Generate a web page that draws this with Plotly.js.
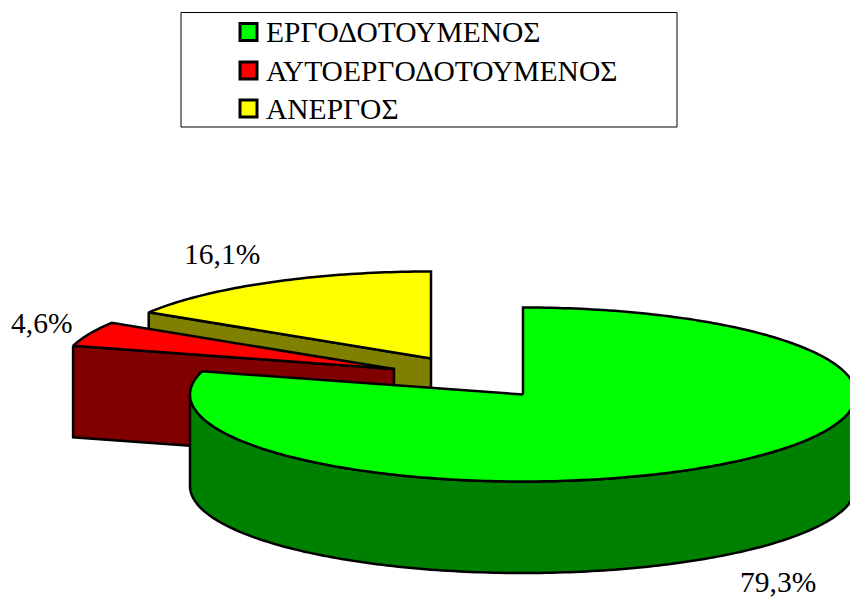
<!DOCTYPE html>
<html>
<head>
<meta charset="utf-8">
<script src="https://cdn.plot.ly/plotly-3.0.1.min.js"></script>
<style>html,body{margin:0;padding:0;background:#fff;overflow:hidden}</style>
</head>
<body>
<div id="chart" style="width:850px;height:597px"></div>
<script>
// Data
const categories = ['ΕΡΓΟΔΟΤΟΥΜΕΝΟΣ', 'ΑΥΤΟΕΡΓΟΔΟΤΟΥΜΕΝΟΣ', 'ΑΝΕΡΓΟΣ'];
const values = [79.3, 4.6, 16.1];
const topColors = ['#00ff00', '#ff0000', '#ffff00'];
const sideColors = ['#008000', '#800000', '#808000'];

// Pie geometry (axis units equal pixels)
const apexX = [523, 394, 431];
const apexY = [394.5, 369, 358.5];
const labelX = [778, 41, 222];
const labelY = [581.5, 323, 254];
const RX = 333, RY = 87, DEPTH = 91.5;
const FONT = '"Liberation Serif","Times New Roman",serif';
const TEXT_SIZE = 29.5;

const rad = d => d * Math.PI / 180;
const ptX = (i, a) => apexX[i] + RX * Math.sin(rad(a));
const ptY = (i, a) => apexY[i] - RY * Math.cos(rad(a));

const total = values.reduce((a, b) => a + b, 0);
const starts = [], ends = [];
let acc = 0;
values.forEach(v => {
  starts.push(acc / total * 360);
  acc += v;
  ends.push(acc / total * 360);
});

function arc(i, a0, a1) {
  const xs = [], ys = [];
  const n = Math.max(2, Math.ceil(Math.abs(a1 - a0)));
  for (let k = 0; k <= n; k++) {
    const a = a0 + (a1 - a0) * k / n;
    xs.push(ptX(i, a));
    ys.push(ptY(i, a));
  }
  return {xs, ys};
}

function poly(xs, ys, fill, name) {
  return {
    type: 'scatter', mode: 'lines', x: xs, y: ys, fill: 'toself',
    fillcolor: fill, line: {color: '#000', width: 2.5, simplify: false},
    hoverinfo: 'skip', showlegend: false, name: name
  };
}

function topFace(i) {
  const c = arc(i, starts[i], ends[i]);
  return poly([apexX[i], ...c.xs, apexX[i]], [apexY[i], ...c.ys, apexY[i]], topColors[i], categories[i]);
}

// radial wall below the slice's first edge (the one facing the viewer)
function radialWall(i) {
  const a = starts[i];
  const px = ptX(i, a), py = ptY(i, a);
  return poly([px, apexX[i], apexX[i], px, px],
              [py, apexY[i], apexY[i] + DEPTH, py + DEPTH, py], sideColors[i], categories[i]);
}

// curved front wall (right through bottom to left)
function frontWall(i) {
  const c = arc(i, 90, 270);
  const xs = [...c.xs, ...c.xs.slice().reverse(), c.xs[0]];
  const ys = [...c.ys, ...c.ys.slice().reverse().map(y => y + DEPTH), c.ys[0]];
  return poly(xs, ys, sideColors[i], categories[i]);
}

const traces = [
  radialWall(2), topFace(2),
  radialWall(1), topFace(1),
  frontWall(0), topFace(0)
];

// legend keys
const legendX = [248.5, 248.5, 248.5];
const legendY = [32, 70.5, 108.5];
traces.push({
  type: 'scatter', mode: 'markers', x: legendX, y: legendY,
  marker: {symbol: 'square', size: 17, color: topColors, line: {color: '#000', width: 3}},
  hoverinfo: 'skip', showlegend: false
});

const annotations = [];
categories.forEach((c, i) => {
  annotations.push({
    x: 263.5, y: legendY[i], xref: 'x', yref: 'y', text: c, showarrow: false,
    xanchor: 'left', yanchor: 'middle', align: 'left',
    font: {family: FONT, size: TEXT_SIZE, color: '#000'}
  });
  annotations.push({
    x: labelX[i], y: labelY[i], xref: 'x', yref: 'y',
    text: values[i].toFixed(1).replace('.', ',') + '%', showarrow: false,
    xanchor: 'center', yanchor: 'middle',
    font: {family: FONT, size: TEXT_SIZE, color: '#000'}
  });
});

const layout = {
  width: 850, height: 597,
  margin: {l: 0, r: 0, t: 0, b: 0},
  paper_bgcolor: '#fff', plot_bgcolor: '#fff',
  showlegend: false,
  xaxis: {range: [0, 850], visible: false, fixedrange: true},
  yaxis: {range: [597, 0], visible: false, fixedrange: true},
  shapes: [{type: 'rect', xref: 'x', yref: 'y', x0: 181, x1: 677, y0: 12.5, y1: 127,
            line: {color: '#000', width: 1}, fillcolor: 'rgba(0,0,0,0)', layer: 'below'}],
  annotations: annotations
};

Plotly.newPlot('chart', traces, layout, {displayModeBar: false, staticPlot: true});
</script>
</body>
</html>
